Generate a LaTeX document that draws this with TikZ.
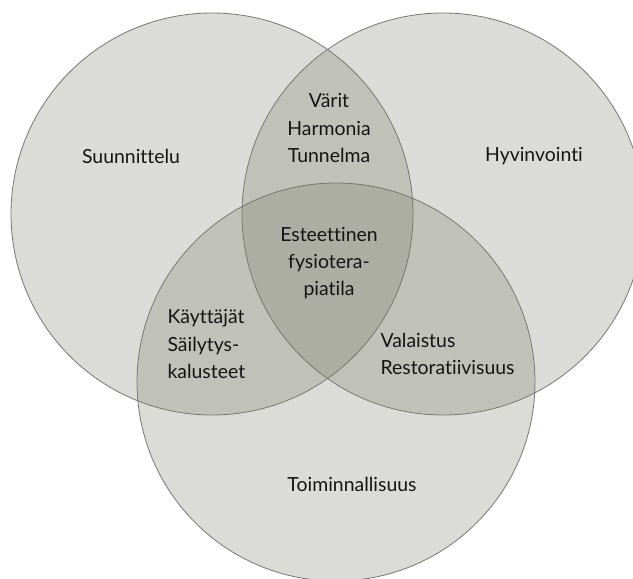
\documentclass[tikz,border=0pt]{standalone}
\usepackage{fontspec}
\setmainfont{Lato}[Ligatures=NoCommon]

\definecolor{vennFill}{RGB}{112,116,96}
\definecolor{vennLine}{RGB}{118,120,112}
\definecolor{vennText}{RGB}{20,20,20}

\begin{document}
\begin{tikzpicture}[x=1bp, y=-1bp, font=\fontsize{19.5}{27.5}\selectfont, text=vennText]
\useasboundingbox (0,0) rectangle (633,579);
\clip (0,0) rectangle (633,579);

% the three sets
\begin{scope}[fill=vennFill, fill opacity=0.25]
\fill (212,214) circle [radius=201bp];
\fill (443,214) circle [radius=201bp];
\fill (336,382) circle [radius=199bp];
\end{scope}
\begin{scope}[draw=vennLine, line width=0.8bp]
\draw (212,214) circle [radius=201bp];
\draw (443,214) circle [radius=201bp];
\draw (336,382) circle [radius=199bp];
\end{scope}

% set labels
\node (suun) at (131,156) {Suunnittelu};
\node (hyvi) at (534,156) {Hyvinvointi};
\node (toim) at (352,484) {Toiminnallisuus};

% overlaps
\node (vari) at (329,128) [align=center] {Värit\\Harmonia\\Tunnelma};
\node (este) at (329,263) [align=center] {Esteettinen\\fysiotera-\\piatila};
\node (kayt) at (164,344) [anchor=west, align=left] {Käyttäjät\\Säilytys-\\kalusteet};
\node (vala) at (377,354) [anchor=west, align=left] {Valaistus\\Restoratiivisuus};
\end{tikzpicture}
\end{document}
